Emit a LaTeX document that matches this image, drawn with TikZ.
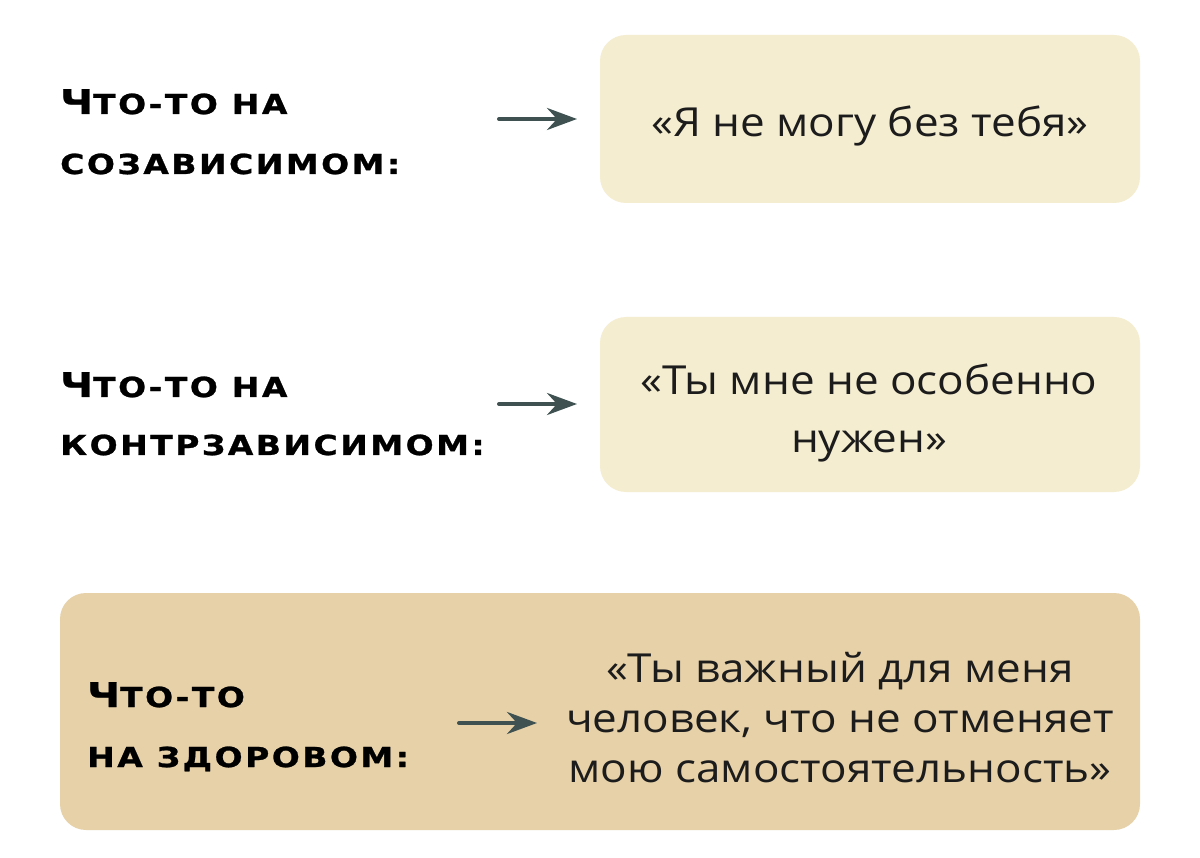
\documentclass[tikz,border=0pt]{standalone}
\usepackage{fontspec}
\setmainfont[FakeStretch=1.1]{Open Sans}
\newfontfamily\labfont[LetterSpace=9,FakeStretch=1.2,FakeBold=1]{DejaVu Sans}
\usetikzlibrary{arrows.meta}
\definecolor{boxlight}{HTML}{F4EDD0}
\definecolor{boxtan}{HTML}{E6D1A9}
\definecolor{arrowc}{HTML}{3F5150}
\definecolor{quotec}{HTML}{1C1C1C}
\newcommand{\labcap}[1]{{\fontsize{34}{34}\selectfont #1}}
\tikzset{
  box/.style={rounded corners=26pt},
  lab/.style={anchor=base west, inner sep=0pt, font=\labfont\bfseries\fontsize{27.5}{27.5}\selectfont, text=black},
  quote/.style={inner sep=0pt, align=center, text=quotec, anchor=base},
  arr/.style={-{Stealth[length=30pt,width=22pt,inset=10pt]}, line width=4pt, draw=arrowc, line cap=round}
}
\begin{document}
\begin{tikzpicture}[x=1pt,y=-1pt]
\useasboundingbox (0,0) rectangle (1200,858);
\fill[white] (0,0) rectangle (1200,858);
% boxes
\fill[boxlight, box] (600,35) rectangle (1140,203);
\fill[boxlight, box] (600,317) rectangle (1140,492);
\fill[boxtan, box] (60,593) rectangle (1140,830);
% labels
\node[lab] (l1a) at (60,114) {\labcap{Ч}ТО-ТО НА};
\node[lab] (l1b) at (60,174) {СОЗАВИСИМОМ:};
\node[lab] (l2a) at (60,397) {\labcap{Ч}ТО-ТО НА};
\node[lab] (l2b) at (60,455) {КОНТРЗАВИСИМОМ:};
\node[lab] (l3a) at (87,707) {\labcap{Ч}ТО-ТО};
\node[lab] (l3b) at (87,767) {НА ЗДОРОВОМ:};
% quotes (base = baseline of the last line)
\node[quote, font=\fontsize{40}{58}\selectfont] (q1) at (870,137) {«Я не могу без тебя»};
\node[quote, font=\fontsize{40}{58}\selectfont] (q2) at (869,453) {«Ты мне не особенно\\нужен»};
\node[quote, font=\fontsize{40}{50}\selectfont] (q3) at (840,782) {«Ты важный для меня\\человек, что не отменяет\\мою самостоятельность»};
% arrows
\coordinate (a1s) at (499,119); \coordinate (a1e) at (577,119);
\coordinate (a2s) at (499,404); \coordinate (a2e) at (577,404);
\coordinate (a3s) at (459,723); \coordinate (a3e) at (537,723);
\draw[arr] (a1s) -- (a1e);
\draw[arr] (a2s) -- (a2e);
\draw[arr] (a3s) -- (a3e);
\end{tikzpicture}
\end{document}
